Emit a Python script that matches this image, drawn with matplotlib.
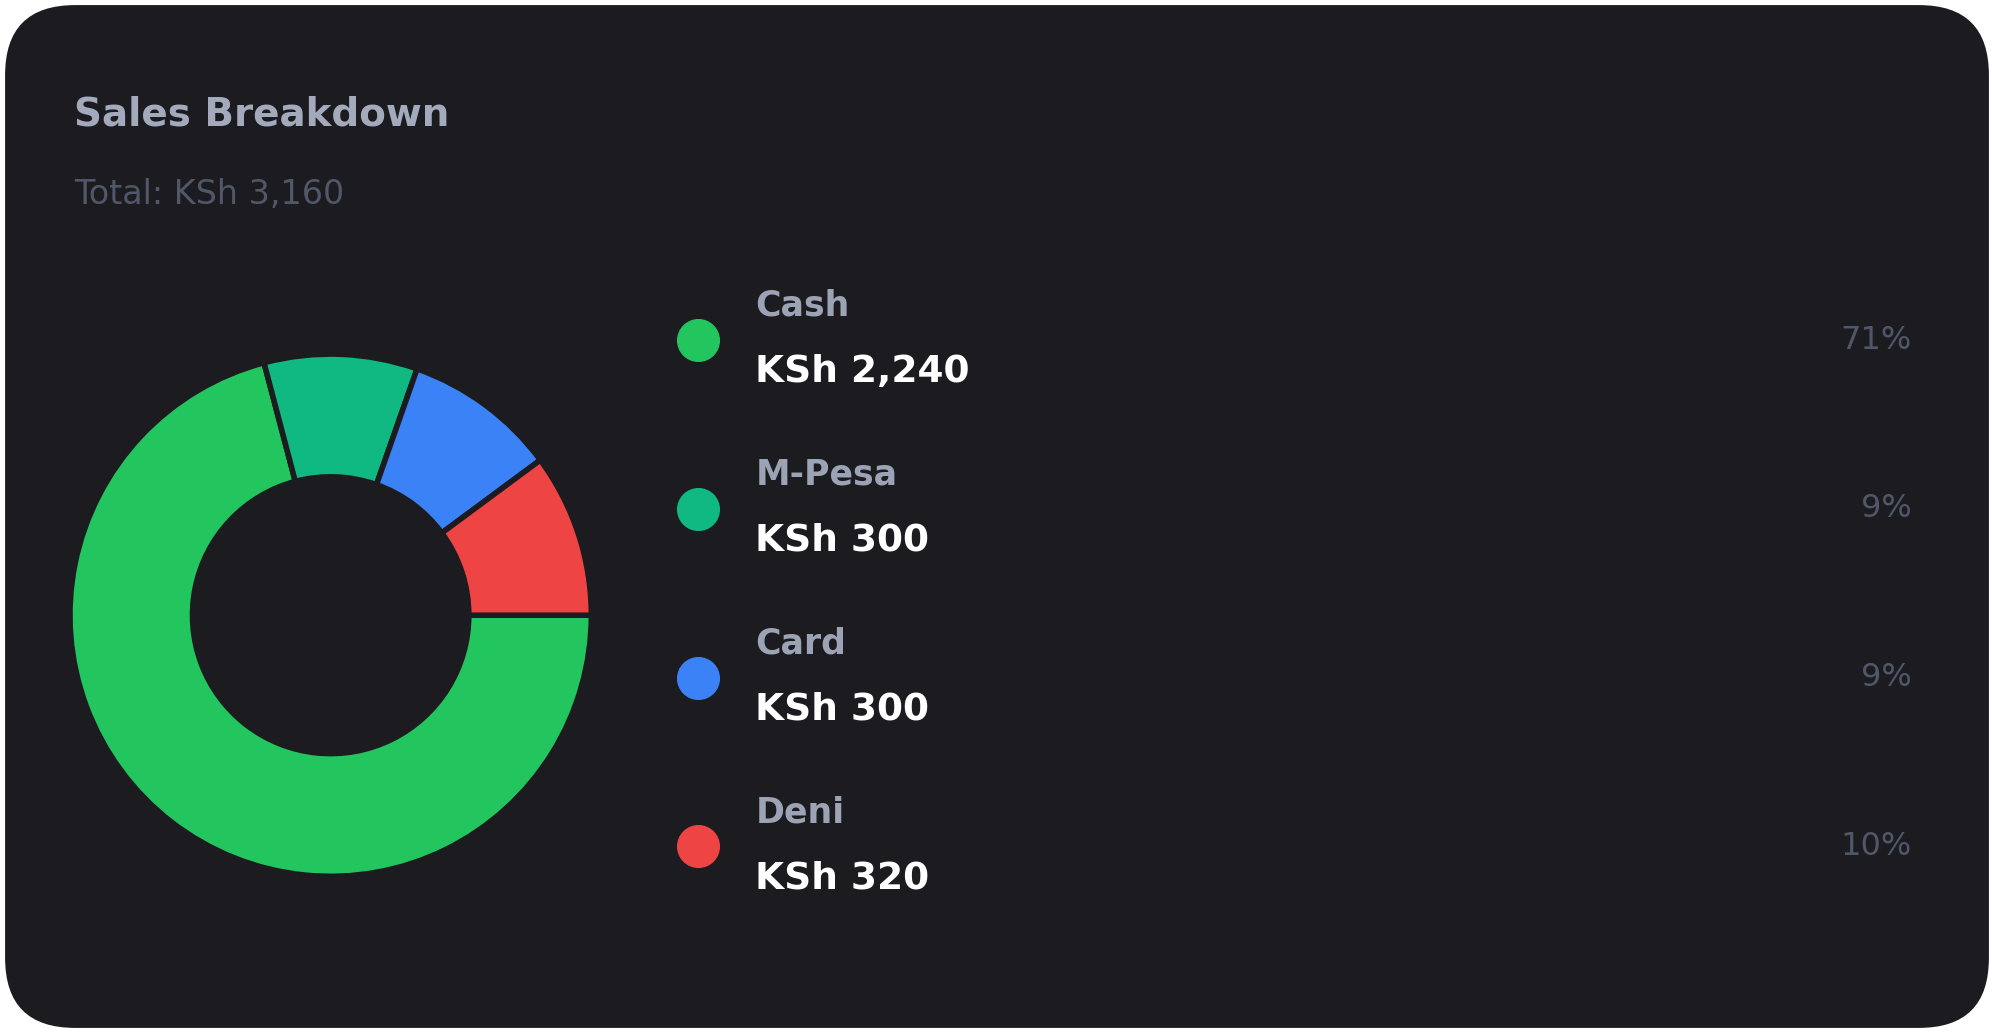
import matplotlib.pyplot as plt
from matplotlib.patches import FancyBboxPatch

labels = ["Cash", "M-Pesa", "Card", "Deni"]
amounts = [2240, 300, 300, 320]
pct_labels = ["71%", "9%", "9%", "10%"]
colors = ["#22c55e", "#10b981", "#3b82f6", "#ef4444"]
total = sum(amounts)

W, H = 1568, 811  # layout units (reference scaled)
fig = plt.figure(figsize=(19.94, 10.33), dpi=100)
fig.patch.set_facecolor("white")
plt.rcParams['font.family'] = ['DejaVu Sans']

def fx(x):
    return x / W

def fy(y):
    return 1 - y / H

bg = fig.add_axes([0, 0, 1, 1])
bg.set_xlim(0, W)
bg.set_ylim(H, 0)
bg.axis("off")
bg.add_patch(FancyBboxPatch((4, 4), W - 8, H - 8, boxstyle="round,pad=0,rounding_size=55",
                            fc="#1b1b20", ec="none"))

fig.text(fx(58), fy(90), "Sales Breakdown", color="#a3aabb", fontsize=28,
         fontweight="bold", va="center")
fig.text(fx(58), fy(153), f"Total: KSh {total:,}", color="#505768", fontsize=24, va="center")

# donut
cx, cy, r = 260, 483, 205
ax = fig.add_axes([fx(cx - r), fy(cy + r), fx(2 * r), 2 * r / H])
ax.pie(amounts, colors=colors, startangle=0, counterclock=False,
       wedgeprops=dict(width=0.47, edgecolor="#1b1b20", linewidth=4))
ax.set_aspect("auto")
ax.set_xlim(-1.0, 1.0)
ax.set_ylim(-1.0, 1.0)
ax.axis("off")

# legend rows
for i, (lab, amt, pct, col) in enumerate(zip(labels, amounts, pct_labels, colors)):
    y0 = 267 + i * 132.5
    bg.scatter([549], [y0], s=900, color=col, zorder=3)
    fig.text(fx(594), fy(y0 - 27), lab, color="#9ca3b4", fontsize=25,
             fontweight="bold", va="center")
    fig.text(fx(594), fy(y0 + 25), f"KSh {amt:,}", color="white", fontsize=27,
             fontweight="bold", va="center")
    fig.text(fx(1503), fy(y0), pct, color="#505768", fontsize=23,
             va="center", ha="right")

fig.savefig("out.png", dpi=100, facecolor="white")
